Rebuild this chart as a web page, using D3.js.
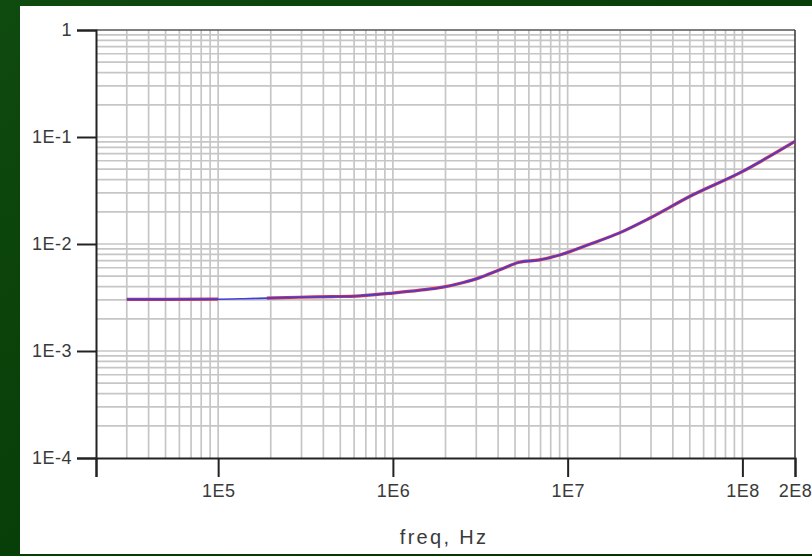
<!DOCTYPE html>
<html>
<head>
<meta charset="utf-8">
<script src="https://cdn.jsdelivr.net/npm/d3@7"></script>
<style>
html,body{margin:0;padding:0;background:#0b3d0b;}
svg{display:block;}
</style>
</head>
<body>
<svg id="chart" width="812" height="556"></svg>
<script>
// ---- data ----
const freq = [3.0e4, 5e4, 1e5, 1.4e5, 1.9e5, 2.9e5, 4.5e5, 6.5e5, 1e6, 1.43e6, 1.93e6, 2.5e6, 3.14e6, 4.09e6, 5.3e6, 6.9e6, 9.0e6, 1.3e7, 1.98e7, 2.94e7, 5.18e7, 9.6e7, 2e8];
const simValues = [3.04e-3, 3.04e-3, 3.05e-3, 3.08e-3, 3.12e-3, 3.18e-3, 3.22e-3, 3.28e-3, 3.48e-3, 3.7e-3, 3.95e-3, 4.35e-3, 4.85e-3, 5.75e-3, 6.75e-3, 7.1e-3, 7.9e-3, 9.8e-3, 1.27e-2, 1.74e-2, 2.87e-2, 4.6e-2, 9.1e-2];
const measValues = [3.04e-3, 3.04e-3, 3.05e-3, null, 3.12e-3, 3.18e-3, 3.22e-3, 3.28e-3, 3.48e-3, 3.7e-3, 3.95e-3, 4.35e-3, 4.85e-3, 5.75e-3, 6.75e-3, 7.1e-3, 7.9e-3, 9.8e-3, 1.27e-2, 1.74e-2, 2.87e-2, 4.6e-2, 9.1e-2];
const xTickValues = [2e4, 1e5, 1e6, 1e7, 1e8, 2e8];
const xTickLabels = ["", "1E5", "1E6", "1E7", "1E8", "2E8"];
const yTickValues = [1, 1e-1, 1e-2, 1e-3, 1e-4];
const yTickLabels = ["1", "1E-1", "1E-2", "1E-3", "1E-4"];
const xTitle = "freq, Hz";

// ---- layout ----
const svg = d3.select("#chart");
const W = 812, H = 556;
const pLeft = 96, pRight = 795, pTop = 30, pBottom = 458;
const FONT = "'Liberation Sans', Arial, sans-serif";

const defs = svg.append("defs");
const g1 = defs.append("linearGradient").attr("id","bg").attr("x1","0").attr("y1","0").attr("x2","1").attr("y2","1");
g1.append("stop").attr("offset","0").attr("stop-color","#0f4a0f");
g1.append("stop").attr("offset","0.5").attr("stop-color","#083e08");
g1.append("stop").attr("offset","1").attr("stop-color","#033003");
svg.append("rect").attr("width",W).attr("height",H).attr("fill","url(#bg)");
svg.append("rect").attr("x",20).attr("y",6).attr("width",W-20).attr("height",548).attr("fill","#ffffff");

const x = d3.scaleLog().domain([2e4, 2e8]).range([pLeft, pRight]);
const y = d3.scaleLog().domain([1e-4, 1]).range([pBottom, pTop]);

// grid
const xGrid = [];
for (let e = 4; e <= 8; e++) for (let m = 1; m <= 9; m++) { const v = m * Math.pow(10, e); if (v > 2e4 && v < 2e8) xGrid.push(v); }
const yGrid = [];
for (let e = -4; e <= -1; e++) for (let m = 1; m <= 9; m++) { const v = m * Math.pow(10, e); if (v > 1e-4 && v < 1) yGrid.push(v); }

const grid = svg.append("g");
grid.selectAll(".vg").data(xGrid).join("line")
  .attr("x1", d => x(d)).attr("x2", d => x(d)).attr("y1", pTop).attr("y2", pBottom)
  .attr("stroke", "#c6c6c6").attr("stroke-width", 1.7);
grid.selectAll(".hg").data(yGrid).join("line")
  .attr("y1", d => y(d)).attr("y2", d => y(d)).attr("x1", pLeft).attr("x2", pRight)
  .attr("stroke", "#c6c6c6").attr("stroke-width", 1.7);

// frame
svg.append("line").attr("x1",pLeft).attr("x2",pRight).attr("y1",pTop).attr("y2",pTop).attr("stroke","#555").attr("stroke-width",1.5);
svg.append("line").attr("x1",pRight).attr("x2",pRight).attr("y1",pTop).attr("y2",pBottom).attr("stroke","#333").attr("stroke-width",1.5);

// axes
const xAxis = d3.axisBottom(x).tickValues(xTickValues).tickFormat((d,i) => xTickLabels[i]).tickSize(19).tickPadding(7);
const gx = svg.append("g").attr("transform", `translate(0,${pBottom})`).call(xAxis);
gx.select(".domain").attr("stroke","#222").attr("stroke-width",2);
gx.selectAll(".tick line").attr("stroke","#222").attr("stroke-width",2);
gx.selectAll(".tick text").attr("fill","#3a3a3a").style("font-family",FONT).style("font-size","18px").style("letter-spacing","0.5px");

const yAxis = d3.axisLeft(y).tickValues(yTickValues).tickFormat((d,i) => yTickLabels[i]).tickSize(19).tickPadding(5);
const gy = svg.append("g").attr("transform", `translate(${pLeft},0)`).call(yAxis);
gy.select(".domain").attr("stroke","#222").attr("stroke-width",2);
gy.selectAll(".tick line").attr("stroke","#222").attr("stroke-width",2);
gy.selectAll(".tick text").attr("fill","#3a3a3a").style("font-family",FONT).style("font-size","18px").style("letter-spacing","0.5px");

svg.append("text").attr("x", 444).attr("y", 544).attr("text-anchor","middle")
  .attr("fill","#3a3a3a").style("font-family",FONT).style("font-size","20px").style("letter-spacing","2.3px").text(xTitle);

// lines
const line = d3.line().defined(d => d[1] != null).x(d => x(d[0])).y(d => y(d[1])).curve(d3.curveMonotoneX);
svg.append("path").datum(freq.map((f,i) => [f, measValues[i]]))
  .attr("d", line).attr("fill","none").attr("stroke","#d8324a").attr("stroke-width",3.2);
svg.append("path").datum(freq.map((f,i) => [f, simValues[i]]))
  .attr("d", line).attr("fill","none").attr("stroke","#3f3fd8").attr("stroke-width",1.6);
</script>
</body>
</html>
